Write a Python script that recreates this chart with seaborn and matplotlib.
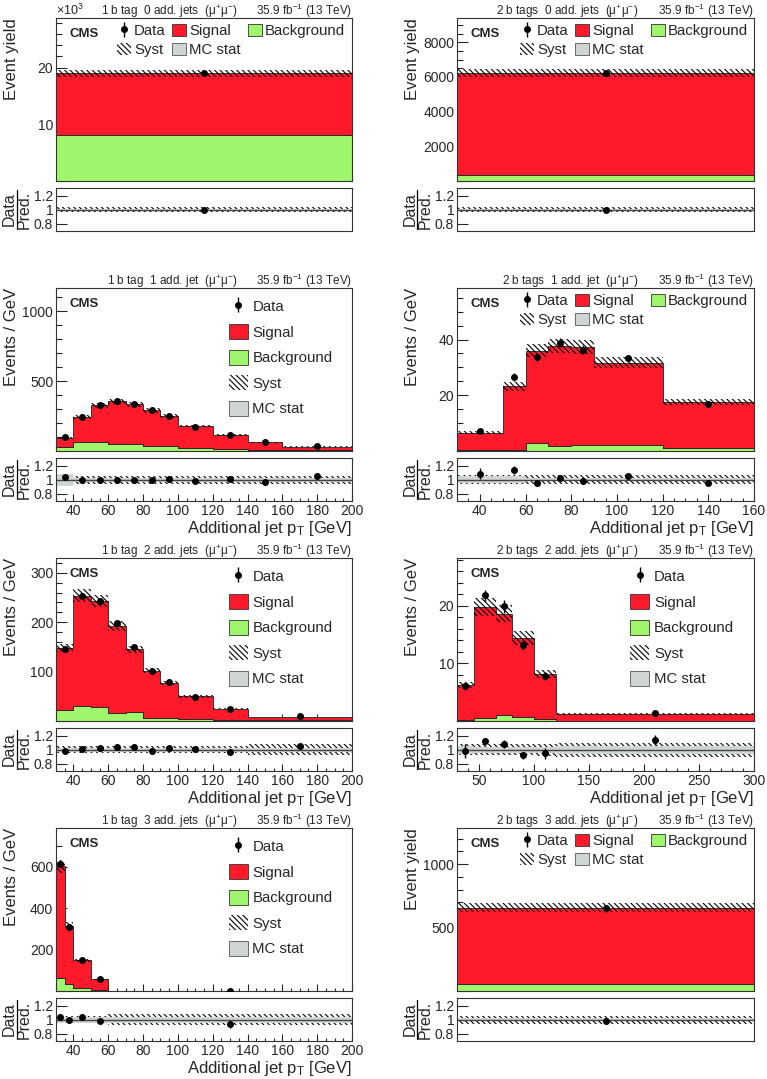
import numpy as np
import pandas as pd
import seaborn as sns
import matplotlib.pyplot as plt
from matplotlib.patches import Patch
from matplotlib.ticker import MultipleLocator, FuncFormatter, FixedLocator, NullLocator

# ---- data ----
# 1 b tag, 0 add. jets (single bin)
p1_edges = [0, 1]
p1_sig = [10950]
p1_bkg = [8050]
p1_data = [19000]
p1_derr = [150]
p1_syst = [0.035]
p1_mcs = [0.01]
p1_ratio = [0.995]
p1_rerr = [0.01]

# 2 b tags, 0 add. jets
p2_edges = [0, 1]
p2_sig = [5900]
p2_bkg = [330]
p2_data = [6220]
p2_derr = [80]
p2_syst = [0.035]
p2_mcs = [0.012]
p2_ratio = [1.0]
p2_rerr = [0.015]

# 1 b tag, 1 add. jet
p3_edges = [30, 40, 50, 60, 70, 80, 90, 100, 120, 140, 160, 200]
p3_sig = [64, 179, 264, 303, 285, 257, 217, 154, 100, 57, 26]
p3_bkg = [29, 64, 62, 52, 48, 33, 33, 24, 12, 7, 5]
p3_data = [97, 243, 326, 355, 333, 290, 252, 175, 113, 62, 33]
p3_derr = [3, 5, 6, 6, 6, 5, 5, 3, 2.5, 2, 1]
p3_syst = [0.055, 0.055, 0.055, 0.055, 0.055, 0.055, 0.055, 0.055, 0.055, 0.055, 0.055]
p3_mcs = [0.09, 0.03, 0.03, 0.03, 0.03, 0.03, 0.03, 0.03, 0.03, 0.03, 0.03]
p3_ratio = [1.04, 1.0, 1.0, 1.0, 1.0, 1.0, 1.01, 0.98, 1.01, 0.97, 1.05]
p3_rerr = [0.03, 0.02, 0.02, 0.015, 0.015, 0.015, 0.02, 0.02, 0.025, 0.03, 0.035]

# 2 b tags, 1 add. jet
p4_edges = [30, 50, 60, 70, 80, 90, 120, 160]
p4_sig = [6.35, 22.95, 33.1, 36.0, 35.2, 29.7, 16.5]
p4_bkg = [0.25, 0.25, 2.9, 1.7, 2.2, 2.0, 1.0]
p4_data = [7.2, 26.5, 33.8, 38.9, 36.4, 33.4, 16.7]
p4_derr = [0.5, 1.4, 1.5, 1.5, 1.5, 0.9, 0.5]
p4_syst = [0.065, 0.065, 0.065, 0.065, 0.065, 0.065, 0.065]
p4_mcs = [0.05, 0.05, 0.02, 0.02, 0.02, 0.02, 0.02]
p4_ratio = [1.09, 1.14, 0.96, 1.03, 0.98, 1.05, 0.96]
p4_rerr = [0.08, 0.06, 0.04, 0.04, 0.04, 0.025, 0.025]

# 1 b tag, 2 add. jets
p5_edges = [30, 40, 50, 60, 70, 80, 90, 100, 120, 140, 200]
p5_sig = [126, 224, 215, 176, 127, 96, 70, 45, 22, 6.5]
p5_bkg = [22, 30, 28, 16, 18, 6, 7, 5, 3, 1.5]
p5_data = [146, 254, 243, 198, 150, 101, 79, 49.5, 24, 9.5]
p5_derr = [4, 5, 5, 4.5, 4, 3, 3, 1.6, 1.1, 0.4]
p5_syst = [0.05, 0.05, 0.05, 0.05, 0.05, 0.05, 0.05, 0.05, 0.05, 0.08]
p5_mcs = [0.03, 0.03, 0.03, 0.03, 0.03, 0.03, 0.03, 0.03, 0.03, 0.03]
p5_ratio = [0.99, 1.01, 1.02, 1.04, 1.04, 0.99, 1.02, 1.01, 0.97, 1.05]
p5_rerr = [0.02, 0.015, 0.015, 0.02, 0.02, 0.02, 0.03, 0.025, 0.04, 0.04]

# 2 b tags, 2 add. jets
p6_edges = [30, 45, 65, 80, 100, 120, 300]
p6_sig = [6.1, 19.2, 17.6, 13.7, 7.9, 1.15]
p6_bkg = [0.1, 0.6, 1.0, 0.7, 0.3, 0.05]
p6_data = [6.0, 21.8, 19.9, 13.2, 7.8, 1.45]
p6_derr = [0.6, 1.0, 1.1, 0.9, 0.7, 0.08]
p6_syst = [0.08, 0.08, 0.08, 0.08, 0.09, 0.1]
p6_mcs = [0.06, 0.04, 0.04, 0.04, 0.04, 0.06]
p6_ratio = [0.98, 1.12, 1.08, 0.92, 0.95, 1.14]
p6_rerr = [0.1, 0.05, 0.06, 0.05, 0.08, 0.07]

# 1 b tag, 3 add. jets
p7_edges = [30, 35, 40, 50, 60, 200]
p7_sig = [537, 280, 132, 51, 1.7]
p7_bkg = [65, 35, 16, 5, 0.3]
p7_data = [612, 311, 150, 56, 1.9]
p7_derr = [11, 8, 4, 2.4, 0.1]
p7_syst = [0.05, 0.05, 0.05, 0.05, 0.08]
p7_mcs = [0.04, 0.04, 0.04, 0.04, 0.04]
p7_ratio = [1.04, 1.0, 1.035, 0.98, 0.94]
p7_rerr = [0.015, 0.015, 0.02, 0.03, 0.05]

# 2 b tags, 3 add. jets
p8_edges = [0, 1]
p8_sig = [604]
p8_bkg = [52]
p8_data = [651]
p8_derr = [25]
p8_syst = [0.055]
p8_mcs = [0.02]
p8_ratio = [0.99]
p8_rerr = [0.03]

titles = ['1 b tag  0 add. jets  (μ$^{+}$μ$^{-}$)', '2 b tags  0 add. jets  (μ$^{+}$μ$^{-}$)',
          '1 b tag  1 add. jet  (μ$^{+}$μ$^{-}$)', '2 b tags  1 add. jet  (μ$^{+}$μ$^{-}$)',
          '1 b tag  2 add. jets  (μ$^{+}$μ$^{-}$)', '2 b tags  2 add. jets  (μ$^{+}$μ$^{-}$)',
          '1 b tag  3 add. jets  (μ$^{+}$μ$^{-}$)', '2 b tags  3 add. jets  (μ$^{+}$μ$^{-}$)']
lumi = '35.9 fb$^{-1}$ (13 TeV)'

# ---- style ----
sns.set_style('ticks')
plt.rcParams['font.family'] = ['Liberation Sans', 'DejaVu Sans']
plt.rcParams['mathtext.fontset'] = 'custom'
plt.rcParams['mathtext.rm'] = 'Liberation Sans'
plt.rcParams['mathtext.it'] = 'Liberation Sans:italic'
plt.rcParams['mathtext.bf'] = 'Liberation Sans:bold'
plt.rcParams['hatch.linewidth'] = 0.8

SIG = '#ff1a2b'
BKG = '#9ff56b'
MCS = '#cfd4d4'
HATCH = '\\\\\\\\\\\\'
LEGFS = 10.8

W, H = 767, 1079
fig = plt.figure(figsize=(W / 100, H / 100), dpi=100)


def box(x0, y0, w, h):
    return [x0 / W, 1 - (y0 + h) / H, w / W, h / H]


def step(vals):
    vals = np.asarray(vals, float)
    return np.append(vals, vals[-1])


def panel(idx, edges, sig, bkg, data, derr, syst, mcs, ratio, rerr,
          ylim, ymaj, ymin, xlim=None, xmaj=None, xmin=None, wide=False, k=False):
    col, row = idx % 2, idx // 2
    x0 = [56, 457][col]
    w = [296, 297][col]
    top = 18 + 270 * row
    ax = fig.add_axes(box(x0, top, w, 163))
    rax = fig.add_axes(box(x0, top + 170, w, 43))

    centers = [(a + b) / 2 for a, b in zip(edges[:-1], edges[1:])]
    n = len(centers)
    df = pd.DataFrame({'x': centers * 2,
                       'w': list(sig) + list(bkg),
                       'comp': ['Signal'] * n + ['Background'] * n})
    sns.histplot(data=df, x='x', weights='w', hue='comp', hue_order=['Signal', 'Background'],
                 bins=list(edges), multiple='stack', element='step', fill=True, alpha=1,
                 palette={'Signal': SIG, 'Background': BKG}, edgecolor='#222222',
                 linewidth=0.6, legend=False, ax=ax)
    edges = np.asarray(edges, float)
    total = np.asarray(sig, float) + np.asarray(bkg, float)
    syst = np.asarray(syst, float)
    ax.fill_between(edges, step(total * (1 - syst)), step(total * (1 + syst)), step='post',
                    facecolor='none', edgecolor='black', hatch=HATCH, linewidth=0)
    eb = ax.errorbar(centers, data, yerr=derr, fmt='o', color='black', ms=4,
                     elinewidth=1, capsize=0, zorder=5)

    # ratio panel
    rax.fill_between(edges, step(1 - syst), step(1 + syst), step='post',
                     facecolor='none', edgecolor='black', hatch=HATCH, linewidth=0)
    mcs = np.asarray(mcs, float)
    rax.fill_between(edges, step(1 - mcs), step(1 + mcs), step='post', color=MCS, linewidth=0)
    rax.axhline(1, color='#444444', lw=1)
    rax.errorbar(centers, ratio, yerr=rerr, fmt='o', color='black', ms=4,
                 elinewidth=1, capsize=0, zorder=5)

    lim = (edges[0], edges[-1]) if xlim is None else xlim
    for a in (ax, rax):
        a.set_xlim(*lim)
        for s in a.spines.values():
            s.set_visible(True)
            s.set_color('#333333')
            s.set_linewidth(0.8)
        a.tick_params(axis='y', which='major', direction='in', length=8, width=0.8,
                      labelsize=10, pad=2, right=False)
        a.tick_params(axis='y', which='minor', direction='in', length=4, width=0.8, right=False)
        a.tick_params(axis='x', which='major', direction='in', length=5, width=0.8,
                      labelsize=10, pad=2, top=False)
        a.tick_params(axis='x', which='minor', direction='in', length=2.5, width=0.8, top=False)
        a.set_xlabel('')
        a.set_ylabel('')
    ax.set_ylim(*ylim)
    ax.yaxis.set_major_locator(MultipleLocator(ymaj))
    ax.yaxis.set_minor_locator(MultipleLocator(ymin))
    if k:
        ax.yaxis.set_major_formatter(FuncFormatter(lambda v, p: '' if v == 0 else f'{v / 1000:g}'))
        ax.text(0.0, 1.02, r'$\times$10$^{3}$', transform=ax.transAxes, ha='left', va='baseline', fontsize=9)
    else:
        ax.yaxis.set_major_formatter(FuncFormatter(lambda v, p: '' if v == 0 else f'{v:g}'))
    rax.set_ylim(0.7, 1.31)
    rax.yaxis.set_major_locator(FixedLocator([0.8, 1.0, 1.2]))
    rax.yaxis.set_minor_locator(NullLocator())
    rax.yaxis.set_major_formatter(FuncFormatter(lambda v, p: f'{v:g}'))

    if xmaj is None:
        for a in (ax, rax):
            a.xaxis.set_major_locator(NullLocator())
            a.xaxis.set_minor_locator(NullLocator())
        ax.set_ylabel('Event yield', loc='top', fontsize=12)
    else:
        for a in (ax, rax):
            a.xaxis.set_major_locator(MultipleLocator(xmaj))
            a.xaxis.set_minor_locator(MultipleLocator(xmin))
        ax.tick_params(axis='x', labelbottom=False)
        ax.set_ylabel('Events / GeV', loc='top', fontsize=12)
        rax.set_xlabel(r'Additional jet p$_\mathregular{T}$ [GeV]', loc='right', fontsize=12, labelpad=1)
    ax.yaxis.set_label_coords(-0.125, 1.0)

    # Data / Pred. fraction label
    rax.text(-0.157, 0.5, 'Data', transform=rax.transAxes, rotation=90,
             ha='center', va='center', fontsize=11.5)
    rax.text(-0.108, 0.5, 'Pred.', transform=rax.transAxes, rotation=90,
             ha='center', va='center', fontsize=11.5)
    rax.plot([-0.133, -0.133], [0.04, 0.96], transform=rax.transAxes, clip_on=False,
             color='black', lw=0.9)

    ax.text(0.612, 1.017, titles[idx], transform=ax.transAxes, ha='right', va='baseline', fontsize=8.5)
    ax.text(1.0, 1.017, lumi, transform=ax.transAxes, ha='right', va='baseline', fontsize=8.5)
    ax.text(0.045, 0.90, 'CMS', transform=ax.transAxes, ha='left', va='center',
            fontsize=9.5, fontweight='bold')

    handles = [eb,
               Patch(facecolor=SIG, edgecolor='#333333', linewidth=0.6),
               Patch(facecolor=BKG, edgecolor='#333333', linewidth=0.6),
               Patch(facecolor='white', edgecolor='black', hatch=HATCH, linewidth=0),
               Patch(facecolor=MCS, edgecolor='#555555', linewidth=0.6)]
    labels = ['Data', 'Signal', 'Background', 'Syst', 'MC stat']
    if wide:
        order = [0, 3, 1, 4, 2]
        lx = 0.206 if col == 0 else 0.212
        ax.legend([handles[i] for i in order], [labels[i] for i in order], ncol=3,
                  loc='upper left', bbox_to_anchor=(lx, 0.966), frameon=False, fontsize=LEGFS,
                  handlelength=0.93, handleheight=0.87, handletextpad=0.2, columnspacing=0.45,
                  labelspacing=0.35, borderpad=0, borderaxespad=0)
    else:
        ax.legend(handles, labels, loc='upper left', bbox_to_anchor=(0.584, 0.935),
                  frameon=False, fontsize=LEGFS, handlelength=1.27, handleheight=1.2,
                  handletextpad=0.3, labelspacing=0.65, borderpad=0, borderaxespad=0)


panel(0, p1_edges, p1_sig, p1_bkg, p1_data, p1_derr, p1_syst, p1_mcs, p1_ratio, p1_rerr,
      (0, 28800), 10000, 2000, wide=True, k=True)
panel(1, p2_edges, p2_sig, p2_bkg, p2_data, p2_derr, p2_syst, p2_mcs, p2_ratio, p2_rerr,
      (0, 9400), 2000, 500, wide=True)
panel(2, p3_edges, p3_sig, p3_bkg, p3_data, p3_derr, p3_syst, p3_mcs, p3_ratio, p3_rerr,
      (0, 1165), 500, 100, xmaj=20, xmin=5)
panel(3, p4_edges, p4_sig, p4_bkg, p4_data, p4_derr, p4_syst, p4_mcs, p4_ratio, p4_rerr,
      (0, 58.5), 20, 5, xmaj=20, xmin=5, wide=True)
panel(4, p5_edges, p5_sig, p5_bkg, p5_data, p5_derr, p5_syst, p5_mcs, p5_ratio, p5_rerr,
      (0, 330), 100, 20, xmaj=20, xmin=5)
panel(5, p6_edges, p6_sig, p6_bkg, p6_data, p6_derr, p6_syst, p6_mcs, p6_ratio, p6_rerr,
      (0, 28.3), 10, 2, xmaj=50, xmin=10)
panel(6, p7_edges, p7_sig, p7_bkg, p7_data, p7_derr, p7_syst, p7_mcs, p7_ratio, p7_rerr,
      (0, 787), 200, 100, xlim=(30, 200), xmaj=20, xmin=5)
panel(7, p8_edges, p8_sig, p8_bkg, p8_data, p8_derr, p8_syst, p8_mcs, p8_ratio, p8_rerr,
      (0, 1285), 500, 100, wide=True)

fig.savefig('out.png', dpi=100)
